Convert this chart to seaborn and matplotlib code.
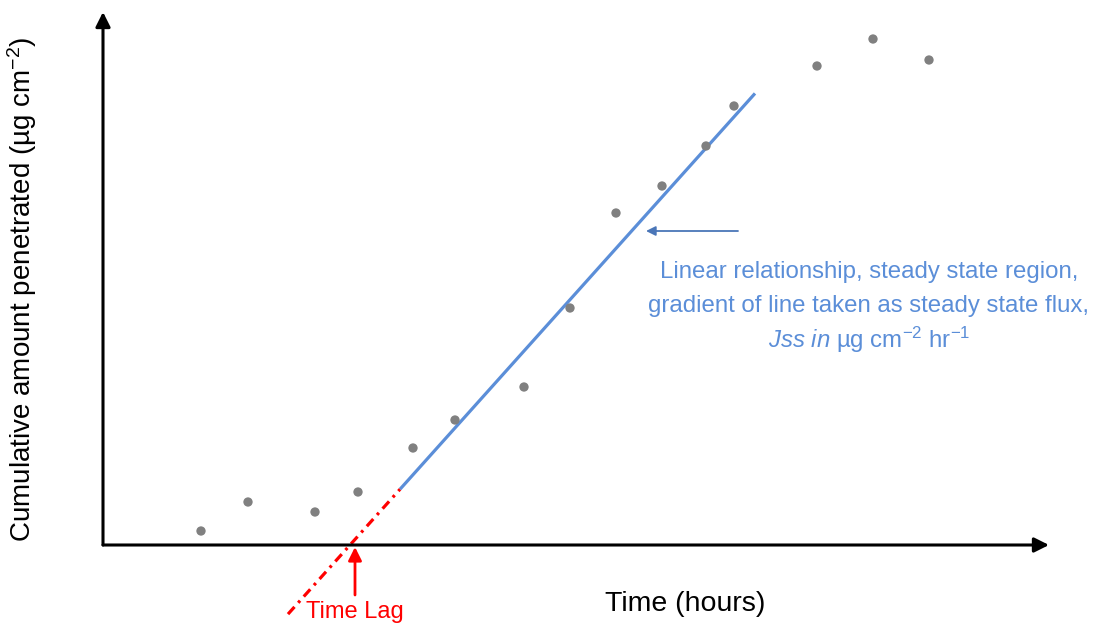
import numpy as np
import pandas as pd
import matplotlib
matplotlib.use('Agg')
import matplotlib.pyplot as plt
import seaborn as sns

sns.set_style('white')
plt.rcParams['font.family'] = ['Liberation Sans', 'DejaVu Sans']
plt.rcParams['mathtext.fontset'] = 'custom'
plt.rcParams['mathtext.rm'] = 'Liberation Sans'
plt.rcParams['mathtext.it'] = 'Liberation Sans:italic'
plt.rcParams['lines.scale_dashes'] = False

# 데이터 (시간, 누적 투과량 - 임의 단위)
time_h = [9.8, 14.5, 21.2, 25.5, 31.0, 35.2, 42.1, 46.7, 51.3, 55.9, 60.3, 63.1, 71.4, 77.0, 82.6]
cum_amount = [1.4, 4.3, 3.3, 5.3, 9.7, 12.5, 15.8, 23.7, 33.2, 35.9, 39.9, 43.9, 47.9, 50.6, 48.5]

# 정상상태 구간 직선 (기울기 = Jss, x절편 = lag time)
jss = 1.115
lag_time = 24.7
fit_start, fit_end = 29.7, 65.2
extrap_start = 18.5

df = pd.DataFrame({'time': time_h, 'amount': cum_amount})

fig = plt.figure(figsize=(11.01, 6.25), dpi=100)
ax = fig.add_axes([0, 0, 1, 1])
ax.set_xlim(-10.3, 99.8)
ax.set_ylim(-8.0, 54.5)
ax.axis('off')

# 축 화살표
ax.annotate('', xy=(94.6, 0), xytext=(0, 0),
            arrowprops=dict(arrowstyle='-|>', color='black', lw=2.2, mutation_scale=22, shrinkA=0, shrinkB=0))
ax.annotate('', xy=(0, 53.3), xytext=(0, 0),
            arrowprops=dict(arrowstyle='-|>', color='black', lw=2.2, mutation_scale=22, shrinkA=0, shrinkB=0))

# 정상상태 직선
x_fit = np.array([fit_start, fit_end])
ax.plot(x_fit, jss * (x_fit - lag_time), color='#5B8ED8', lw=2.3, solid_capstyle='butt')

# 외삽선 (time lag)
x_ext = np.array([extrap_start, fit_start])
ax.plot(x_ext, jss * (x_ext - lag_time), color='#FF0000', lw=2.3, dashes=(7, 4, 2, 4))

sns.scatterplot(data=df, x='time', y='amount', ax=ax, color='#808080', s=45, edgecolor='none', zorder=5)

# 라벨
fig.text(22 / 1101, 1 - 289 / 625, 'Cumulative amount penetrated (µg cm$^{-2}$)',
         rotation=90, ha='center', va='center', fontsize=20, color='black')
fig.text(685 / 1101, 1 - 604 / 625, 'Time (hours)', ha='center', va='center', fontsize=20.5, color='black')

# Time lag 화살표
ax.annotate('', xy=(lag_time + 0.5, -0.2), xytext=(lag_time + 0.5, -5.0),
            arrowprops=dict(arrowstyle='-|>', color='#FF0000', lw=2, mutation_scale=20,
                            shrinkA=0, shrinkB=0))
ax.text(lag_time + 0.5, -6.7, 'Time Lag', ha='center', va='center', color='#FF0000', fontsize=17)

# 설명 화살표 및 텍스트
ax.annotate('', xy=(54.3, 31.4), xytext=(63.5, 31.4),
            arrowprops=dict(arrowstyle='-|>', color='#4A76B8', lw=1.3, mutation_scale=14, shrinkA=0, shrinkB=0))
blue = '#5B8ED8'
fig.text(869 / 1101, 1 - 272 / 625, 'Linear relationship, steady state region,',
         ha='center', va='center', color=blue, fontsize=17.3)
fig.text(869 / 1101, 1 - 306 / 625, 'gradient of line taken as steady state flux,',
         ha='center', va='center', color=blue, fontsize=17.3)
fig.text(869 / 1101, 1 - 340 / 625, r'$\mathit{Jss\ in}$ µg cm$^{-2}$ hr$^{-1}$',
         ha='center', va='center', color=blue, fontsize=17.3)

plt.savefig('out.png', dpi=100)
plt.close()
